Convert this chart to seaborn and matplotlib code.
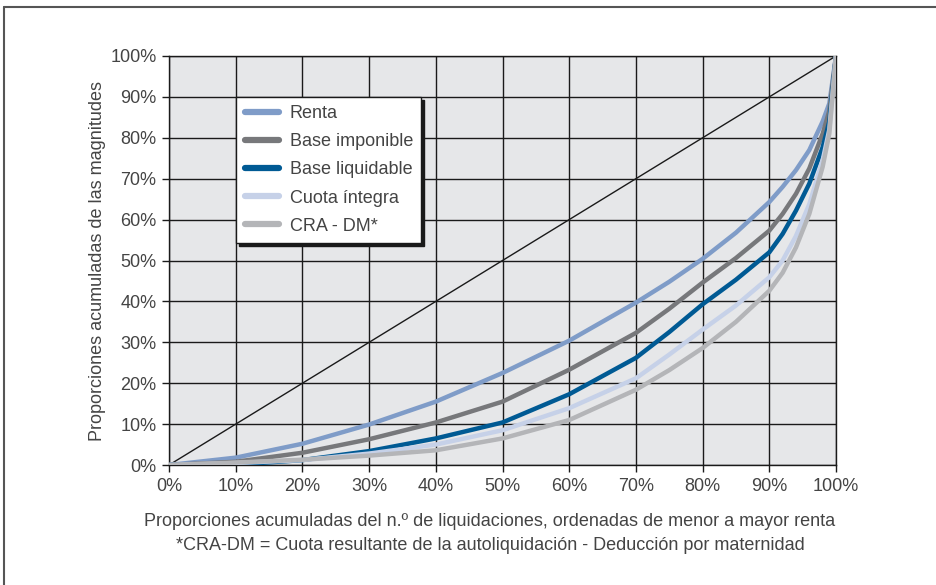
import pandas as pd
import numpy as np
import matplotlib.pyplot as plt
import seaborn as sns
from matplotlib.lines import Line2D

x_pct = [0, 10, 20, 30, 40, 50, 60, 70, 75, 80, 85, 90, 92, 94, 96, 98, 99, 100]
renta = [0, 1.8, 5.2, 9.9, 15.5, 22.5, 30.4, 39.7, 44.8, 50.4, 56.8, 64.3, 68.0, 72.1, 77.0, 84.0, 88.4, 100]
base_imponible = [0, 0.8, 3.0, 6.3, 10.4, 15.5, 23.3, 32.3, 38.2, 44.6, 50.6, 57.3, 61.4, 66.3, 72.5, 81.0, 86.6, 100]
base_liquidable = [0, 0.1, 1.2, 3.4, 6.5, 10.4, 17.3, 26.2, 32.5, 39.3, 45.3, 52.0, 56.5, 62.2, 68.8, 77.7, 84.0, 100]
cuota_integra = [0, 0.5, 1.2, 2.8, 5.0, 8.5, 13.9, 21.2, 27.0, 33.1, 39.0, 45.9, 50.0, 56.0, 63.8, 74.5, 82.0, 100]
cra_dm = [0, 0.6, 1.3, 2.3, 3.6, 6.5, 11.0, 18.4, 23.2, 28.6, 35.0, 42.6, 47.0, 53.2, 61.4, 72.9, 81.0, 100]
igualdad = [0, 100]

series = ["Renta", "Base imponible", "Base liquidable", "Cuota íntegra", "CRA - DM*"]
colores = ["#7f9cc8", "#77787b", "#005a94", "#c6d1e8", "#b4b5b8"]
ticks = list(range(0, 101, 10))
tick_labels = [f"{t}%" for t in ticks]

df = pd.DataFrame({
    "x": x_pct * 5,
    "y": renta + base_imponible + base_liquidable + cuota_integra + cra_dm,
    "serie": np.repeat(series, len(x_pct)),
})

sns.set_style("white")
plt.rcParams["font.family"] = ["Liberation Sans", "DejaVu Sans"]
txt = "#444444"
fs = 13

fig = plt.figure(figsize=(9.37, 5.85), dpi=100)
ax = fig.add_axes([0.1804, 0.2051, 0.7118, 0.6992])
ax.set_facecolor("#e6e7e9")

ax.plot(igualdad, igualdad, color="#1a1a1a", lw=1.0, zorder=2)
sns.lineplot(data=df, x="x", y="y", hue="serie", hue_order=series,
             palette=colores, linewidth=3.2, ax=ax, legend=False, zorder=3)

ax.set_xlim(0, 100)
ax.set_ylim(0, 100)
ax.set_xticks(ticks)
ax.set_yticks(ticks)
ax.set_xticklabels(tick_labels)
ax.set_yticklabels(tick_labels)
ax.grid(True, color="#1a1a1a", lw=1.0, zorder=1)
ax.set_axisbelow(True)
for s in ax.spines.values():
    s.set_color("#1a1a1a")
    s.set_linewidth(1.0)
ax.tick_params(axis="both", length=5, width=1, color="#1a1a1a",
               labelsize=fs, labelcolor=txt, pad=4, direction="out",
               bottom=True, left=True)
ax.set_xlabel("")
ax.set_ylabel("Proporciones acumuladas de las magnitudes", fontsize=fs,
              color=txt, labelpad=3)

handles = [Line2D([0], [0], color=c, lw=4.5) for c in colores]
leg = ax.legend(handles, series, loc="upper left", bbox_to_anchor=(0.101, 0.9),
                fontsize=fs, frameon=True, fancybox=False, edgecolor="#1a1a1a",
                framealpha=1, handlelength=1.9, handletextpad=0.6,
                labelspacing=0.62, borderpad=0.45, borderaxespad=0,
                shadow={"color": "#1a1a1a", "alpha": 1})
leg.get_frame().set_linewidth(1.0)
for t in leg.get_texts():
    t.set_color(txt)

fig.text(490 / 937, 1 - 521 / 585,
         "Proporciones acumuladas del n.º de liquidaciones, ordenadas de menor a mayor renta",
         ha="center", va="center", fontsize=fs, color=txt)
fig.text(490 / 937, 1 - 545 / 585,
         "*CRA-DM = Cuota resultante de la autoliquidación - Deducción por maternidad",
         ha="center", va="center", fontsize=fs, color=txt)

# marco exterior
fig.add_artist(Line2D([4 / 937, 1], [1 - 7 / 585, 1 - 7 / 585],
                      transform=fig.transFigure, color="#555555", lw=1.5))
fig.add_artist(Line2D([4 / 937, 4 / 937], [0, 1 - 7 / 585],
                      transform=fig.transFigure, color="#555555", lw=1.5))

plt.savefig("out.png", dpi=100)
plt.close()
